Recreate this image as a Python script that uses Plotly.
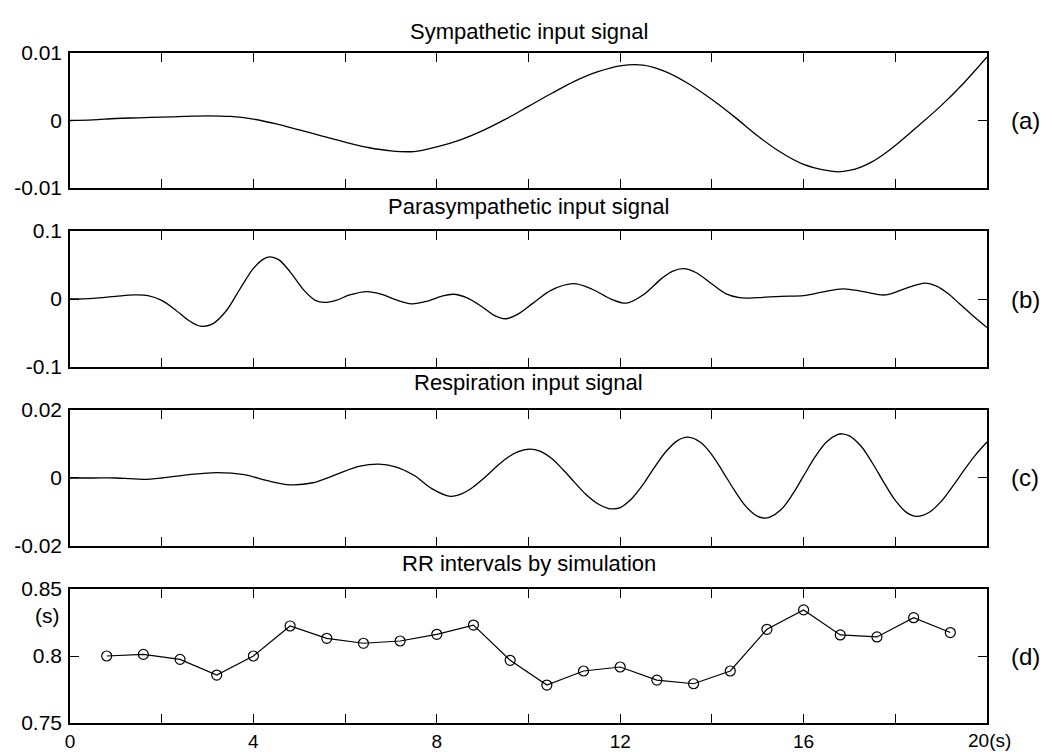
import plotly.graph_objects as go

# ---------------- data ----------------
t_sympathetic = [0, 0.5, 1, 1.5, 2, 2.5, 3, 3.5, 4, 4.5, 5, 5.5, 6, 6.5, 7, 7.5, 8, 8.5, 9,
                 9.5, 10, 10.5, 11, 11.5, 12, 12.5, 13, 13.5, 14, 14.5, 15, 15.5, 16, 16.5,
                 16.75, 17, 17.25, 17.5, 17.75, 18, 18.5, 19, 19.5, 20]
sympathetic = [0, 0.0001, 0.0003, 0.0004, 0.0005, 0.0006, 0.0007, 0.0006, 0.0002, -0.0005,
               -0.0014, -0.0023, -0.0032, -0.0040, -0.0045, -0.0046, -0.0039, -0.0029, -0.0015,
               0.0002, 0.0021, 0.0040, 0.0058, 0.0072, 0.0081, 0.0082, 0.0072, 0.0054, 0.0031,
               0.0005, -0.0023, -0.0047, -0.0065, -0.0074, -0.0076, -0.0074, -0.0069, -0.0061,
               -0.0050, -0.0037, -0.0008, 0.0022, 0.0056, 0.0094]

t_parasympathetic = [0, 0.5, 1.0, 1.4, 1.7, 2.0, 2.3, 2.6, 2.85, 3.1, 3.4, 3.7, 4.0, 4.2, 4.35,
                     4.55, 4.8, 5.1, 5.35, 5.55, 5.8, 6.1, 6.47, 6.8, 7.1, 7.45, 7.8, 8.1, 8.36,
                     8.65, 9.0, 9.25, 9.5, 9.75, 10.1, 10.5, 10.98, 11.4, 11.8, 12.14, 12.5,
                     12.9, 13.15, 13.38, 13.65, 14.0, 14.3, 14.6, 15.0, 15.5, 16.0, 16.4, 16.86,
                     17.3, 17.78, 18.2, 18.65, 18.9, 19.15, 19.4, 19.7, 20]
parasympathetic = [0, 0.001, 0.004, 0.006, 0.005, -0.002, -0.016, -0.032, -0.040, -0.037,
                   -0.018, 0.014, 0.045, 0.058, 0.062, 0.058, 0.040, 0.013, -0.002, -0.005,
                   -0.002, 0.006, 0.011, 0.007, -0.001, -0.007, -0.003, 0.004, 0.007, 0.002,
                   -0.012, -0.024, -0.029, -0.023, -0.006, 0.013, 0.0225, 0.014, 0.000, -0.006,
                   0.006, 0.030, 0.041, 0.0446, 0.039, 0.022, 0.008, 0.002, 0.002, 0.004, 0.005,
                   0.010, 0.015, 0.011, 0.006, 0.015, 0.0235, 0.019, 0.008, -0.007, -0.025, -0.042]

t_respiration = [0, 0.5, 1.0, 1.3, 1.6, 2.0, 2.6, 3.2, 3.8, 4.3, 4.8, 5.3, 5.8, 6.3, 6.73, 7.1,
                 7.5, 7.9, 8.29, 8.5, 8.75, 9.0, 9.25, 9.5, 9.75, 10.03, 10.25, 10.5, 10.75,
                 11.0, 11.25, 11.5, 11.75, 11.85, 12.0, 12.25, 12.5, 12.75, 13.0, 13.25, 13.48,
                 13.75, 14.0, 14.25, 14.5, 14.75, 15.0, 15.16, 15.25, 15.5, 15.75, 16.0, 16.25,
                 16.5, 16.75, 16.84, 17.0, 17.25, 17.5, 17.75, 18.0, 18.25, 18.47, 18.75, 19.0,
                 19.25, 19.5, 19.75, 20.0]
respiration = [0, 0, 0, -0.0002, -0.0004, 0, 0.0010, 0.0016, 0.0010, -0.0008, -0.0020, -0.0014,
               0.0010, 0.0034, 0.0041, 0.0033, 0.0008, -0.0032, -0.0054, -0.0049, -0.0031,
               -0.0004, 0.0027, 0.0056, 0.0076, 0.0085, 0.0079, 0.0058, 0.0025, -0.0012, -0.0048,
               -0.0075, -0.0090, -0.0091, -0.0087, -0.0061, -0.0019, 0.0032, 0.0078, 0.0110,
               0.0120, 0.0105, 0.0068, 0.0016, -0.0038, -0.0085, -0.0113, -0.0118, -0.0116,
               -0.0094, -0.0050, 0.0006, 0.0062, 0.0106, 0.0128, 0.0130, 0.0124, 0.0094, 0.0044,
               -0.0013, -0.0066, -0.0102, -0.0113, -0.0100, -0.0069, -0.0025, 0.0023, 0.0068,
               0.0106]

t_rr = [0.8, 1.6, 2.4, 3.2, 4.0, 4.8, 5.6, 6.4, 7.2, 8.0, 8.8, 9.6, 10.4, 11.2, 12.0, 12.8,
        13.6, 14.4, 15.2, 16.0, 16.8, 17.6, 18.4, 19.2]
rr = [0.800, 0.8012, 0.7975, 0.7858, 0.800, 0.8224, 0.8132, 0.8095, 0.8112, 0.8162, 0.8231,
      0.7968, 0.7783, 0.7888, 0.7918, 0.782, 0.7793, 0.7888, 0.8199, 0.8344, 0.8157, 0.8142,
      0.8286, 0.8175]

titles = ["Sympathetic input signal", "Parasympathetic input signal",
          "Respiration input signal", "RR intervals by simulation"]
panel_labels = ["(a)", "(b)", "(c)", "(d)"]

x_tickvals = [0, 2, 4, 6, 8, 10, 12, 14, 16, 18, 20]
x_ticktext = ["0", "", "4", "", "8", "", "12", "", "16", "", ""]
x_last_label = "20(s)"

y_ranges = [[-0.01, 0.01], [-0.1, 0.1], [-0.02, 0.02], [0.75, 0.85]]
y_tickvals = [[-0.01, 0, 0.01], [-0.1, 0, 0.1], [-0.02, 0, 0.02], [0.75, 0.8, 0.85]]
y_ticktext = [["-0.01", "0", "0.01"], ["-0.1", "0", "0.1"], ["-0.02", "0", "0.02"],
              ["0.75", "0.8", "0.85"]]

# ---------------- figure ----------------
FONT = "Liberation Sans, Arial, sans-serif"
domains = [[0.7985, 1.0], [0.5313, 0.7343], [0.2642, 0.4672], [0.0, 0.2]]
title_y = [1.0328, 0.7716, 0.5075, 0.2388]

fig = go.Figure()
series = [(t_sympathetic, sympathetic), (t_parasympathetic, parasympathetic),
          (t_respiration, respiration)]
for i, (tx, ty) in enumerate(series):
    sfx = "" if i == 0 else str(i + 1)
    fig.add_trace(go.Scatter(x=tx, y=ty, mode="lines",
                             line=dict(color="black", width=1.3, shape="spline", smoothing=1.0),
                             xaxis="x" + sfx, yaxis="y" + sfx, showlegend=False, hoverinfo="skip"))
fig.add_trace(go.Scatter(x=t_rr, y=rr, mode="lines+markers",
                         line=dict(color="black", width=1.2),
                         marker=dict(symbol="circle-open", size=10, color="black", line=dict(width=1.2)),
                         xaxis="x4", yaxis="y4", showlegend=False, hoverinfo="skip"))

layout = dict(width=1052, height=752, autosize=False,
              margin=dict(l=70, r=65, t=53, b=29),
              paper_bgcolor="white", plot_bgcolor="white",
              font=dict(family=FONT, color="black", size=20),
              showlegend=False)

for i in range(4):
    sfx = "" if i == 0 else str(i + 1)
    layout["xaxis" + sfx] = dict(
        domain=[0, 1], range=[0, 20], anchor="y" + sfx, automargin=False,
        tickmode="array", tickvals=x_tickvals, ticktext=x_ticktext,
        showticklabels=(i == 3), ticks="inside", ticklen=9, tickwidth=1.2, tickcolor="black",
        showline=True, linecolor="black", linewidth=1.5, mirror="ticks",
        showgrid=False, zeroline=False, tickfont=dict(size=19, family=FONT),
        ticklabelstandoff=0,
    )
    layout["yaxis" + sfx] = dict(
        domain=domains[i], range=y_ranges[i], anchor="x" + sfx, automargin=False,
        tickmode="array", tickvals=y_tickvals[i], ticktext=y_ticktext[i],
        ticks="inside", ticklen=9, tickwidth=1.2, tickcolor="black",
        showline=True, linecolor="black", linewidth=1.5, mirror="ticks",
        showgrid=False, zeroline=False, tickfont=dict(size=21, family=FONT),
        ticklabelstandoff=2,
    )
fig.update_layout(**layout)

for i in range(4):
    fig.add_annotation(text=titles[i], xref="paper", yref="paper", x=0.5, y=title_y[i],
                       xanchor="center", yanchor="middle", showarrow=False,
                       font=dict(size=22, family=FONT))
    fig.add_annotation(text=panel_labels[i], xref="paper", yref="y" + ("" if i == 0 else str(i + 1)),
                       x=1.0, y=(y_ranges[i][0] + y_ranges[i][1]) / 2, xanchor="left", yanchor="middle",
                       xshift=22, showarrow=False, font=dict(size=24, family=FONT))

# last x tick label with unit, and y unit
fig.add_annotation(text=x_last_label, xref="x4", yref="paper", x=20, y=0, xanchor="left",
                   yanchor="middle", xshift=-21, yshift=-17, showarrow=False,
                   font=dict(size=19, family=FONT))
fig.add_annotation(text="(s)", xref="paper", yref="y4", x=0, y=0.8306, xanchor="right",
                   yanchor="middle", xshift=-8, showarrow=False, font=dict(size=21, family=FONT))

fig.write_html("out.html")
